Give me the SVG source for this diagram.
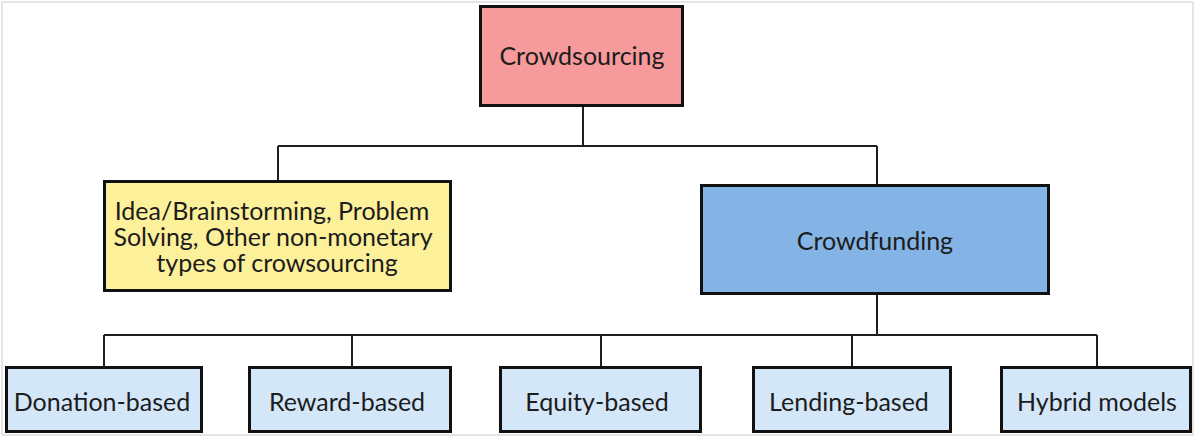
<svg xmlns="http://www.w3.org/2000/svg" width="1195" height="436" viewBox="0 0 1195 436">
  <style>
    .box { stroke: #111; stroke-width: 3; }
    .root { fill: #f69a9b; }
    .idea { fill: #fdf09a; }
    .fund { fill: #83b4e5; }
    .leaf { fill: #d3e7f9; }
    .lbl { font-family: Lato, "Open Sans", "Liberation Sans", sans-serif; font-size: 25px; fill: #1c1c1c; text-anchor: middle; dominant-baseline: central; }
    .wire { stroke: #1e1e1e; stroke-width: 2; fill: none; }
  </style>
  <rect x="2" y="2" width="1191" height="433" fill="#fff" stroke="#e6e6e6" stroke-width="2"/>

  <g id="connectors">
    <path class="wire" d="M583 107V146M278 146H877M278 146V180M877 146V184"/>
    <path class="wire" d="M877 295V335M104 335H1097M104 335V366M352 335V366M601 335V366M852 335V366M1097 335V366"/>
  </g>

  <g id="crowdsourcing">
    <rect class="box root" x="480.5" y="6.5" width="202" height="99"/>
    <text class="lbl" x="582" y="55">Crowdsourcing</text>
  </g>

  <g id="non-monetary">
    <rect class="box idea" x="104.5" y="181.5" width="346" height="109"/>
    <text class="lbl" x="272" y="210">Idea/Brainstorming, Problem</text>
    <text class="lbl" x="273" y="236">Solving, Other non-monetary</text>
    <text class="lbl" x="277" y="262">types of crowsourcing</text>
  </g>

  <g id="crowdfunding">
    <rect class="box fund" x="701.5" y="185.5" width="347" height="108"/>
    <text class="lbl" x="875" y="240">Crowdfunding</text>
  </g>

  <g id="donation">
    <rect class="box leaf" x="6.5" y="367.5" width="195" height="64"/>
    <text class="lbl" x="102" y="401">Donation-based</text>
  </g>

  <g id="reward">
    <rect class="box leaf" x="249.5" y="367.5" width="201" height="64"/>
    <text class="lbl" x="347" y="401">Reward-based</text>
  </g>

  <g id="equity">
    <rect class="box leaf" x="500.5" y="367.5" width="200" height="64"/>
    <text class="lbl" x="597" y="401">Equity-based</text>
  </g>

  <g id="lending">
    <rect class="box leaf" x="753.5" y="367.5" width="197" height="64"/>
    <text class="lbl" x="849" y="401">Lending-based</text>
  </g>

  <g id="hybrid">
    <rect class="box leaf" x="1001.5" y="367.5" width="189" height="64"/>
    <text class="lbl" x="1097" y="401">Hybrid models</text>
  </g>
</svg>
